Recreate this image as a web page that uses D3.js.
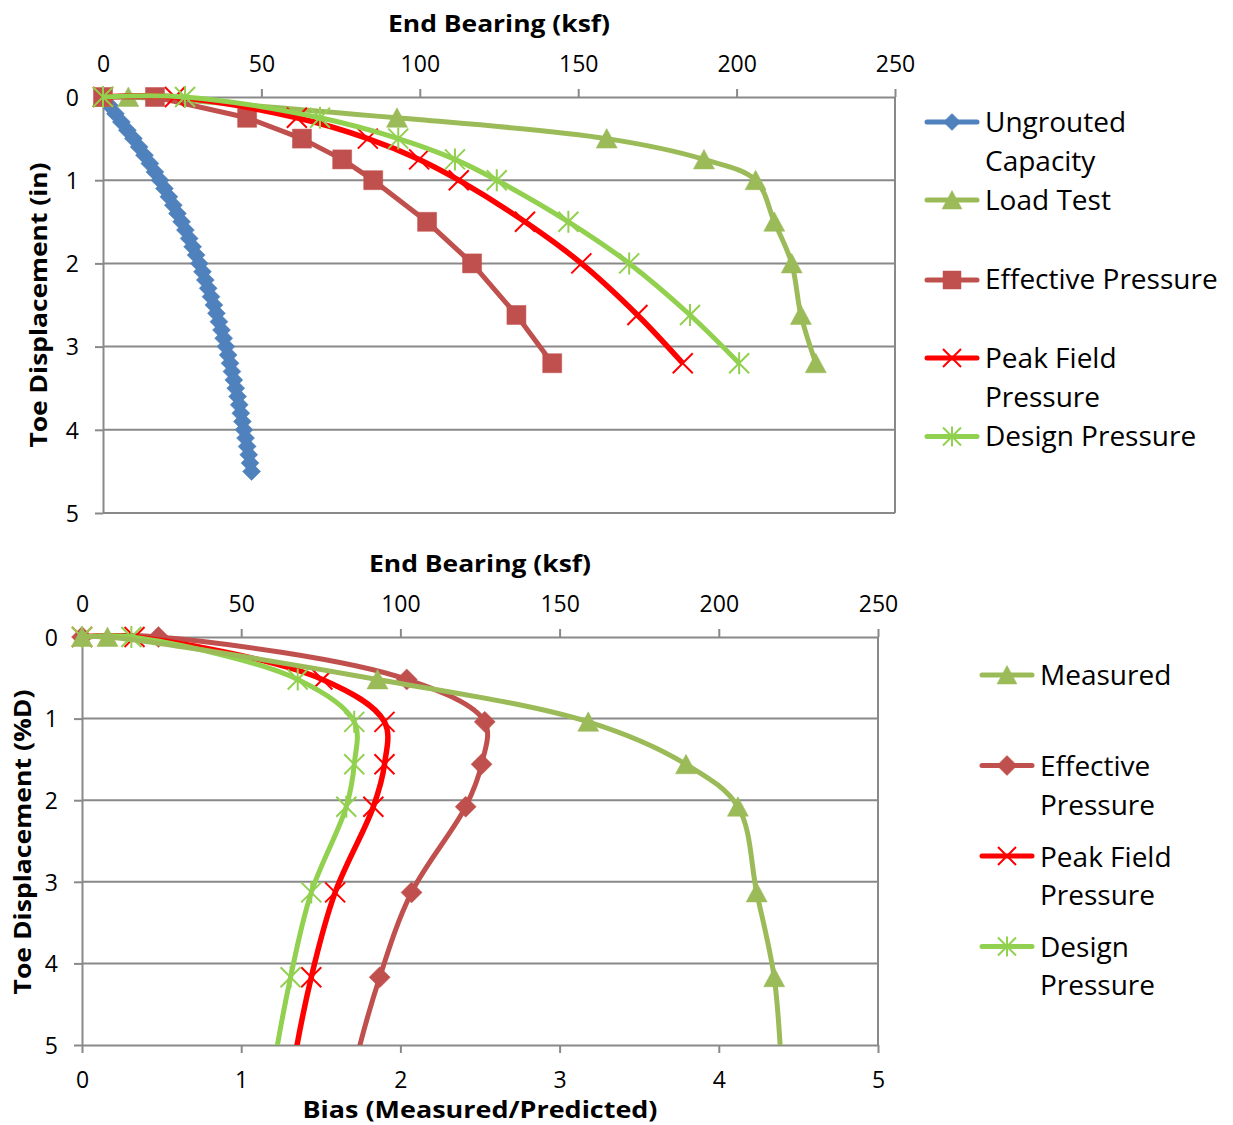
<!DOCTYPE html>
<html>
<head>
<meta charset="utf-8">
<script src="https://cdn.jsdelivr.net/npm/d3@7"></script>
<style>
  html, body { margin: 0; padding: 0; background: #fff; }
  svg { display: block; font-family: "Open Sans", "Noto Sans", sans-serif; }
</style>
</head>
<body>
<svg id="chart" width="1233" height="1125"></svg>
<script>
// ---------- Data: toe displacement vs. end bearing ----------
const dispIn = [0, 0, 0.25, 0.5, 0.75, 1, 1.5, 2, 2.62, 3.2];
const loadTestKsf = [0, 8, 92.8, 159, 189.7, 206, 211.9, 217.4, 220.3, 225];
const effectiveKsf = [0, 16.4, 45.5, 62.8, 75.5, 85.3, 102.3, 116.5, 130.5, 141.8];
const peakFieldKsf = [0, 22.7, 61.2, 83.6, 99.8, 112.3, 133.2, 151, 168.7, 183];
const designKsf = [0, 25.9, 68.5, 93.2, 111.1, 124.3, 146.9, 166.1, 185.3, 200.8];

const ungroutedDispIn = [0, 0.1, 0.2, 0.3, 0.4, 0.5, 0.6, 0.7, 0.8, 0.9, 1.0, 1.1, 1.2, 1.3, 1.4, 1.5,
  1.6, 1.7, 1.8, 1.9, 2.0, 2.1, 2.2, 2.3, 2.4, 2.5, 2.6, 2.7, 2.8, 2.9, 3.0, 3.1, 3.2, 3.3, 3.4, 3.5,
  3.6, 3.7, 3.8, 3.9, 4.0, 4.1, 4.2, 4.3, 4.4, 4.5];
const ungroutedKsf = [0, 2.0, 3.9, 5.8, 7.7, 9.6, 11.4, 13.1, 14.8, 16.4, 18.0, 19.4, 20.8, 22.2, 23.5, 24.8,
  26.0, 27.2, 28.3, 29.4, 30.4, 31.4, 32.3, 33.2, 34.1, 35.0, 35.8, 36.6, 37.4, 38.1, 38.8, 39.5, 40.1, 40.7, 41.3, 41.9,
  42.5, 43.0, 43.5, 44.0, 44.5, 45.0, 45.5, 46.0, 46.4, 46.9];

// ---------- Data: toe displacement (%D) vs. bias ----------
const dispPctD = [0, 0, 0.52, 1.04, 1.56, 2.08, 3.13, 4.17, 5.46, 6.67];
const measuredKsf = [0, 8, 92.8, 159, 189.7, 206, 211.9, 217.4, 220.3, 225];
const effectiveBias = [0, 0.48, 2.04, 2.53, 2.51, 2.41, 2.07, 1.87, 1.69, 1.59];
const peakFieldBias = [0, 0.33, 1.51, 1.90, 1.90, 1.83, 1.59, 1.44, 1.31, 1.23];
const designBias = [0, 0.31, 1.355, 1.71, 1.71, 1.66, 1.44, 1.31, 1.19, 1.12];

// ---------- Axis ticks ----------
const bearingTicks = [0, 50, 100, 150, 200, 250];
const dispTicks = [0, 1, 2, 3, 4, 5];
const biasTicks = [0, 1, 2, 3, 4, 5];

// ---------- Styling ----------
const COL = {
  blue: "#4F81BD", olive: "#9BBB59", brick: "#C0504D", red: "#FF0000", lime: "#92D050",
  grid: "#898989", text: "#000"
};
const fmt = d3.format("d");

const svg = d3.select("#chart");
const zip = (xs, ys) => xs.map((x, i) => ({ x, y: ys[i] }));

// marker shapes
function markerPath(type, s) {
  switch (type) {
    case "diamond": return `M0,${-s}L${s},0L0,${s}L${-s},0Z`;
    case "square": return `M${-s},${-s}H${s}V${s}H${-s}Z`;
    case "triangle": return `M0,${-s}L${s * 1.05},${s * 0.95}L${-s * 1.05},${s * 0.95}Z`;
    case "x": return `M${-s},${-s}L${s},${s}M${s},${-s}L${-s},${s}`;
    case "star": return `M${-s},${-s}L${s},${s}M${s},${-s}L${-s},${s}M0,${-s * 1.1}V${s * 1.1}`;
  }
}
function drawMarker(g, type, color, size, x, y) {
  const open = type === "x" || type === "star";
  g.append("path")
    .attr("transform", `translate(${x},${y})`)
    .attr("d", markerPath(type, size))
    .attr("fill", open ? "none" : color)
    .attr("stroke", color)
    .attr("stroke-width", open ? 2 : 0.5);
}

function styleAxis(g) {
  g.selectAll(".domain").attr("stroke", COL.grid).attr("stroke-width", 2);
  g.selectAll(".tick line").attr("stroke", COL.grid).attr("stroke-width", 2);
  g.selectAll(".tick text").attr("fill", COL.text).attr("font-size", 23)
    .attr("font-family", '"Open Sans", sans-serif');
}

function boldTitle(x, y, text, len, rotate) {
  const t = svg.append("text")
    .attr("x", x).attr("y", y)
    .attr("text-anchor", "middle")
    .attr("font-size", 24).attr("font-weight", 700)
    .attr("fill", COL.text)
    .attr("textLength", len).attr("lengthAdjust", "spacingAndGlyphs")
    .text(text);
  if (rotate) t.attr("transform", `rotate(-90,${x},${y})`);
}

// ===================== Upper chart =====================
(function upper() {
  const L = 103, R = 895, T = 97, B = 513;
  const x = d3.scaleLinear().domain([0, 250]).range([L, R]);
  const y = d3.scaleLinear().domain([0, 5]).range([T, B]);
  const g = svg.append("g");

  // horizontal gridlines
  g.append("g").selectAll("line").data(dispTicks.slice(1)).join("line")
    .attr("x1", L).attr("x2", R).attr("y1", d => y(d)).attr("y2", d => y(d))
    .attr("stroke", COL.grid).attr("stroke-width", 2);
  // right border
  g.append("line").attr("x1", R).attr("x2", R).attr("y1", T).attr("y2", B)
    .attr("stroke", COL.grid).attr("stroke-width", 2);

  const ax = g.append("g").attr("transform", `translate(0,${T})`)
    .call(d3.axisTop(x).tickValues(bearingTicks).tickFormat(fmt).tickSize(8).tickSizeOuter(0).tickPadding(17));
  styleAxis(ax);
  const ay = g.append("g").attr("transform", `translate(${L},0)`)
    .call(d3.axisLeft(y).tickValues(dispTicks).tickFormat(fmt).tickSize(8).tickSizeOuter(0).tickPadding(16));
  styleAxis(ay);
  ay.selectAll(".tick text").attr("dy", "0.36em");

  const clipId = "clipUpper";
  svg.append("clipPath").attr("id", clipId).append("rect")
    .attr("x", L - 12).attr("y", T - 12).attr("width", R - L + 24).attr("height", B - T + 12);

  const series = [
    { xs: ungroutedKsf, ys: ungroutedDispIn, color: COL.blue, marker: "diamond", size: 9, smooth: false, w: 5 },
    { xs: loadTestKsf, ys: dispIn, color: COL.olive, marker: "triangle", size: 10, smooth: true, w: 5 },
    { xs: effectiveKsf, ys: dispIn, color: COL.brick, marker: "square", size: 9.5, smooth: false, w: 5 },
    { xs: peakFieldKsf, ys: dispIn, color: COL.red, marker: "x", size: 10, smooth: true, w: 5.5 },
    { xs: designKsf, ys: dispIn, color: COL.lime, marker: "star", size: 10, smooth: true, w: 5 }
  ];
  series.forEach(s => {
    const pts = zip(s.xs, s.ys);
    const line = d3.line().x(d => x(d.x)).y(d => y(d.y))
      .curve(s.smooth ? d3.curveCatmullRom.alpha(0.5) : d3.curveLinear);
    const sg = g.append("g");
    sg.append("path").attr("d", line(pts)).attr("fill", "none")
      .attr("stroke", s.color).attr("stroke-width", s.w)
      .attr("stroke-linejoin", "round").attr("clip-path", `url(#${clipId})`);
    pts.filter(d => d.y <= 5).forEach(d => drawMarker(sg, s.marker, s.color, s.size, x(d.x), y(d.y)));
  });

  boldTitle((L + R) / 2, 31.5, "End Bearing (ksf)", 222);
  boldTitle(47, 305, "Toe Displacement (in)", 285, true);

  // legend
  const legend = [
    { lines: ["Ungrouted", "Capacity"], base: [132, 171], my: 122, color: COL.blue, marker: "diamond", size: 8.5 },
    { lines: ["Load Test"], base: [209.5], my: 200, color: COL.olive, marker: "triangle", size: 9.5 },
    { lines: ["Effective Pressure"], base: [289], my: 280, color: COL.brick, marker: "square", size: 9 },
    { lines: ["Peak Field", "Pressure"], base: [367.5, 406.5], my: 358, color: COL.red, marker: "x", size: 9 },
    { lines: ["Design Pressure"], base: [446], my: 436.5, color: COL.lime, marker: "star", size: 9 }
  ];
  const lg = svg.append("g");
  legend.forEach(it => {
    lg.append("line").attr("x1", 927).attr("x2", 977).attr("y1", it.my).attr("y2", it.my)
      .attr("stroke", it.color).attr("stroke-width", 5).attr("stroke-linecap", "round");
    drawMarker(lg, it.marker, it.color, it.size, 952, it.my);
    it.lines.forEach((t, i) => lg.append("text").attr("x", 985).attr("y", it.base[i])
      .attr("font-size", 28).attr("fill", COL.text).text(t));
  });
})();

// ===================== Lower chart =====================
(function lower() {
  const L = 82, R = 878, T = 637, B = 1045;
  const xb = d3.scaleLinear().domain([0, 5]).range([L, R]);     // bias
  const xk = d3.scaleLinear().domain([0, 250]).range([L, R]);   // end bearing
  const y = d3.scaleLinear().domain([0, 5]).range([T, B]);
  const g = svg.append("g");

  g.append("g").selectAll("line").data(dispTicks.slice(1, 5)).join("line")
    .attr("x1", L).attr("x2", R).attr("y1", d => y(d)).attr("y2", d => y(d))
    .attr("stroke", COL.grid).attr("stroke-width", 2);
  g.append("line").attr("x1", R).attr("x2", R).attr("y1", T).attr("y2", B)
    .attr("stroke", COL.grid).attr("stroke-width", 2);

  const axTop = g.append("g").attr("transform", `translate(0,${T})`)
    .call(d3.axisTop(xk).tickValues(bearingTicks).tickFormat(fmt).tickSize(8).tickSizeOuter(0).tickPadding(17));
  styleAxis(axTop);
  const axBot = g.append("g").attr("transform", `translate(0,${B})`)
    .call(d3.axisBottom(xb).tickValues(biasTicks).tickFormat(fmt).tickSize(8).tickSizeOuter(0));
  styleAxis(axBot);
  axBot.selectAll(".tick text").attr("y", 43).attr("dy", 0);
  const ay = g.append("g").attr("transform", `translate(${L},0)`)
    .call(d3.axisLeft(y).tickValues(dispTicks).tickFormat(fmt).tickSize(8).tickSizeOuter(0).tickPadding(16));
  styleAxis(ay);
  ay.selectAll(".tick text").attr("dy", "0.36em");

  const clipId = "clipLower";
  svg.append("clipPath").attr("id", clipId).append("rect")
    .attr("x", L - 12).attr("y", T - 12).attr("width", R - L + 24).attr("height", B - T + 12);

  const series = [
    { xs: effectiveBias, sx: xb, color: COL.brick, marker: "diamond", size: 10.5, w: 5 },
    { xs: peakFieldBias, sx: xb, color: COL.red, marker: "x", size: 10, w: 5.5 },
    { xs: designBias, sx: xb, color: COL.lime, marker: "star", size: 10, w: 5 },
    { xs: measuredKsf, sx: xk, color: COL.olive, marker: "triangle", size: 10, w: 5 }
  ];
  series.forEach(s => {
    const pts = zip(s.xs, dispPctD);
    const line = d3.line().x(d => s.sx(d.x)).y(d => y(d.y)).curve(d3.curveCatmullRom.alpha(0.5));
    const sg = g.append("g");
    sg.append("path").attr("d", line(pts)).attr("fill", "none")
      .attr("stroke", s.color).attr("stroke-width", s.w)
      .attr("stroke-linejoin", "round").attr("clip-path", `url(#${clipId})`);
    pts.filter(d => d.y <= 5).forEach(d => drawMarker(sg, s.marker, s.color, s.size, s.sx(d.x), y(d.y)));
  });

  boldTitle((L + R) / 2, 572, "End Bearing (ksf)", 222);
  boldTitle((L + R) / 2, 1118, "Bias (Measured/Predicted)", 355);
  boldTitle(31, 842, "Toe Displacement (%D)", 305, true);

  const legend = [
    { lines: ["Measured"], base: [685], my: 675, color: COL.olive, marker: "triangle", size: 9.5 },
    { lines: ["Effective", "Pressure"], base: [776, 815], my: 765.5, color: COL.brick, marker: "diamond", size: 10 },
    { lines: ["Peak Field", "Pressure"], base: [866.5, 905], my: 856, color: COL.red, marker: "x", size: 9 },
    { lines: ["Design", "Pressure"], base: [956.5, 995], my: 946.5, color: COL.lime, marker: "star", size: 9 }
  ];
  const lg = svg.append("g");
  legend.forEach(it => {
    lg.append("line").attr("x1", 982).attr("x2", 1032).attr("y1", it.my).attr("y2", it.my)
      .attr("stroke", it.color).attr("stroke-width", 5).attr("stroke-linecap", "round");
    drawMarker(lg, it.marker, it.color, it.size, 1007, it.my);
    it.lines.forEach((t, i) => lg.append("text").attr("x", 1040).attr("y", it.base[i])
      .attr("font-size", 28).attr("fill", COL.text).text(t));
  });
})();
</script>
</body>
</html>
